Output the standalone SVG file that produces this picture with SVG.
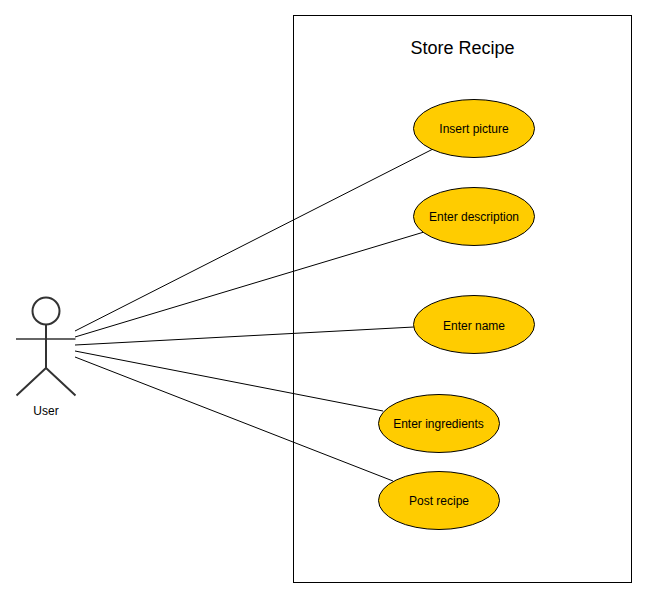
<svg xmlns="http://www.w3.org/2000/svg" width="647" height="598" viewBox="0 0 647 598">
<style>
text{font-family:"Liberation Sans",Arial,sans-serif;fill:#000}
.l{font-size:12px;text-anchor:middle}
.uc{fill:#ffcc00;stroke:#000;stroke-width:1}
.c{stroke:#000;stroke-width:1;fill:none}
.a{stroke:#333;stroke-width:2;fill:none}
</style>
<rect width="647" height="598" fill="#fff"/>
<g id="system"><rect x="293.500" y="15.500" width="338" height="567" fill="#fff" stroke="#000"/><text x="462.500" y="54" font-size="18" text-anchor="middle">Store Recipe</text></g>
<g id="connectors">
<line class="c" x1="75" y1="331" x2="433" y2="149"/>
<line class="c" x1="75" y1="337" x2="424" y2="232"/>
<line class="c" x1="75" y1="345" x2="414" y2="327"/>
<line class="c" x1="75" y1="351" x2="383" y2="411"/>
<line class="c" x1="75" y1="357" x2="393" y2="481"/>
</g>
<g id="user"><circle class="a" cx="46" cy="311" r="13.500"/><path class="a" d="M46 325V368M46 368L16.500 395.500M46 368L75.500 395.500"/><path class="a" style="stroke-width:1.500" d="M16 339H75.500"/><text class="l" x="46" y="415">User</text></g>
<g id="insert-picture"><ellipse class="uc" cx="474" cy="128.500" rx="60.500" ry="29"/><text class="l" x="474" y="133">Insert picture</text></g>
<g id="enter-description"><ellipse class="uc" cx="474" cy="216.500" rx="60.500" ry="29"/><text class="l" x="474" y="221">Enter description</text></g>
<g id="enter-name"><ellipse class="uc" cx="474" cy="324.500" rx="60.500" ry="29"/><text class="l" x="474" y="330">Enter name</text></g>
<g id="enter-ingredients"><ellipse class="uc" cx="439" cy="423.500" rx="60.500" ry="29"/><text class="l" x="438.500" y="428">Enter ingredients</text></g>
<g id="post-recipe"><ellipse class="uc" cx="439" cy="500.500" rx="60.500" ry="29"/><text class="l" x="439" y="505">Post recipe</text></g>
</svg>
